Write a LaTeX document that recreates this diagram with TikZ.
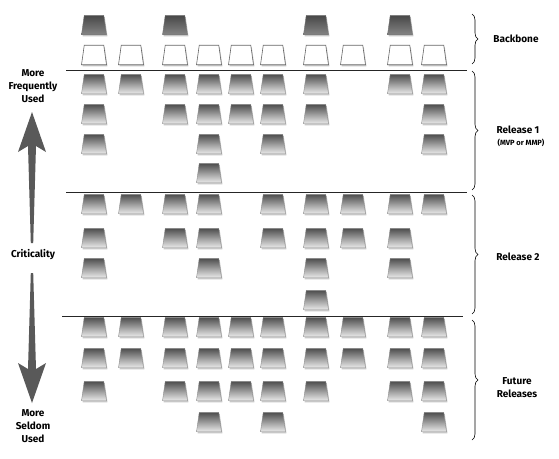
\documentclass[tikz,border=0pt]{standalone}
\usepackage{fontspec}
\setmainfont{Fira Sans}
\usetikzlibrary{shapes.geometric,decorations.pathreplacing}
\tikzset{
  cardbase/.style={trapezium, trapezium left angle=82, trapezium right angle=82,
    minimum width=24pt, minimum height=19.5pt, inner sep=0.5pt, line width=0.4pt},
  cardshadow/.style={cardbase, fill=black, opacity=0.22, draw=none},
  storycard/.style={cardbase, draw=black!45, top color=black!70, bottom color=black!8},
  darkcard/.style={cardbase, draw=black!55, top color=black!72, bottom color=black!48},
  whitecard/.style={cardbase, draw=black!60, line width=0.6pt, fill=white},
  sepline/.style={line width=0.9pt, black!85},
  bracestyle/.style={decorate, decoration={brace, amplitude=6pt}, line width=0.6pt},
  lbl/.style={font=\bfseries\fontsize{10}{13}\selectfont, align=center, inner sep=0pt},
  smalllbl/.style={font=\bfseries\fontsize{7.5}{8}\selectfont, inner sep=0pt},
  arrowfill/.style={fill=black!65, draw=none}
}
\newcommand\cardrow[4]{%
  \foreach \c in {#3}{%
    \pgfmathsetmacro\cx{{94,131,175,209,241,273,316,353,400,434}[\c-1]}%
    \node[cardshadow] (shadow-#2-\c) at (\cx+1,#1+1.5) {};
    \node[#4] (card-#2-\c) at (\cx,#1) {};
  }%
}
\begin{document}
\begin{tikzpicture}[x=1pt,y=-1pt]
\useasboundingbox (0,0) rectangle (559,458);
% backbone
\cardrow{25}{b1}{1,3,7,9}{darkcard}
\cardrow{55}{b2}{1,2,3,4,5,6,7,8,9,10}{whitecard}
% release 1
\cardrow{84}{ra}{1,2,3,4,5,6,7,9,10}{storycard}
\cardrow{114}{rb}{1,3,4,5,6,7,10}{storycard}
\cardrow{144}{rc}{1,4,6,10}{storycard}
\cardrow{173}{rd}{4}{storycard}
% release 2
\cardrow{204}{sa}{1,2,3,4,6,7,8,9,10}{storycard}
\cardrow{238}{sb}{1,3,4,6,7,8,9}{storycard}
\cardrow{268}{sc}{1,4,7,9}{storycard}
\cardrow{300}{sd}{7}{storycard}
% future
\cardrow{327}{fa}{1,2,3,4,5,6,7,8,9,10}{storycard}
\cardrow{358}{fb}{1,2,3,4,5,6,7,8,9,10}{storycard}
\cardrow{391}{fc}{1,3,4,5,6,7,9,10}{storycard}
\cardrow{422}{fd}{4,6,10}{storycard}
% separator lines
\draw[sepline] (66,70) -- (467,70);
\draw[sepline] (66,192) -- (467,192);
\draw[sepline] (62,316) -- (463,316);
% braces
\draw[bracestyle] (472,14) -- (472,64);
\draw[bracestyle] (472,71) -- (472,190);
\draw[bracestyle] (472,195) -- (472,314);
\draw[bracestyle] (472,320) -- (472,440);
% right labels
\node[lbl] (backbone) at (516,39) {Backbone};
\node[lbl] (rel1) at (518,130) {Release 1};
\node[smalllbl] (mvp) at (521,143) {(MVP or MMP)};
\node[lbl] (rel2) at (518,257) {Release 2};
\node[lbl] (future) at (517,388) {Future\\Releases};
% left labels
\node[lbl] (freq) at (33,86) {More\\Frequently\\Used};
\node[lbl] (crit) at (33,255) {Criticality};
\node[lbl] (seldom) at (33,426) {More\\Seldom\\Used};
% arrows
\fill[arrowfill] (32,112) -- (46,152) -- (36,146) -- (33.2,243) -- (30.8,243) -- (28,146) -- (18,152) -- cycle;
\fill[arrowfill] (32,403) -- (46,363) -- (36,369) -- (33.2,273) -- (30.8,273) -- (28,369) -- (18,363) -- cycle;
\end{tikzpicture}
\end{document}
